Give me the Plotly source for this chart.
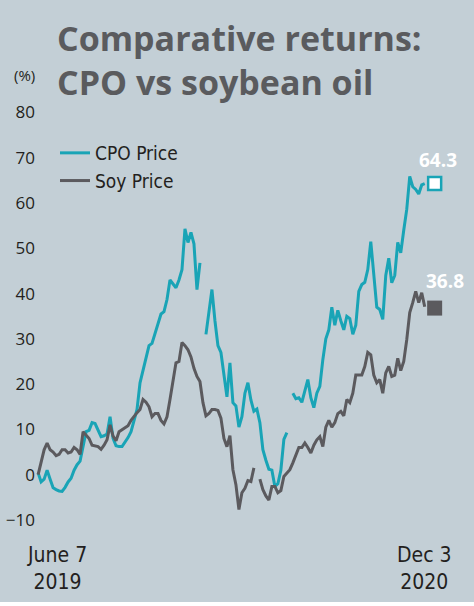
import pandas as pd
import plotly.graph_objects as go

# ---------------- data ----------------
START_DATE = "2019-06-07"
END_DATE = "2020-12-03"

cpo_price = [
    0.4, -1.6, -1.0, 1.0, -1.0, -2.9, -3.3, -3.6, -3.7, -2.8,
    -1.6, -0.8, 1.0, 2.2, 3.0, 6.2, 9.5, 9.8, 11.5, 11.3,
    10.0, 8.4, 8.6, 9.0, 12.8, 8.0, 6.4, 6.2, 6.2, 7.2,
    8.2, 9.5, 12.0, 14.4, 20.3, 23.2, 25.5, 28.5, 29.0, 31.0,
    33.5, 35.5, 36.0, 38.7, 43.0, 42.0, 41.3, 43.0, 45.3, 54.3,
    51.3, 53.5, 51.0, 40.9, 46.8, None, 31.0, 36.0, 40.9, 34.0,
    28.5, 27.0, 22.5, 17.2, 24.7, 15.9, 15.2, 10.5, 12.8, 18.0,
    20.3, 16.5, 14.0, 14.5, 11.5, 5.5, 3.2, 1.2, 1.0, -2.6,
    -2.0, 1.0, 7.8, 9.3, None, 18.0, 16.8, 17.0, 16.0, 18.5,
    21.0, 17.0, 14.8, 18.0, 19.5, 25.4, 30.0, 32.0, 37.0, 33.0,
    36.3, 34.0, 32.0, 35.0, 34.5, 31.0, 33.0, 40.5, 42.0, 42.5,
    45.3, 51.5, 44.0, 37.0, 36.5, 34.3, 44.0, 47.8, 42.4, 44.0,
    51.3, 49.0, 54.0, 58.6, 65.9, 63.6, 63.0, 62.0, 64.0, 64.3,
]

soy_price = [
    0.0, 3.0, 5.5, 7.0, 5.5, 5.0, 4.2, 4.5, 5.5, 5.5,
    4.8, 5.0, 6.0, 5.5, 4.5, 9.5, 8.8, 8.0, 6.5, 6.3,
    6.2, 5.6, 6.5, 7.7, 11.0, 8.5, 7.5, 9.5, 10.0, 10.3,
    10.8, 12.0, 13.0, 13.7, 14.4, 16.6, 16.0, 15.0, 12.8, 13.5,
    13.5, 12.0, 11.2, 12.8, 16.6, 21.0, 24.7, 25.0, 29.2, 28.5,
    27.6, 26.0, 23.5, 21.7, 20.6, 15.9, 13.0, 13.5, 14.4, 14.4,
    14.2, 12.5, 8.0, 6.2, 8.6, 1.1, -2.2, -7.7, -4.0, -3.0,
    -1.3, -1.5, 1.5, None, -1.0, -3.3, -4.7, -5.6, -2.6, -2.6,
    -4.0, -3.5, -0.4, 0.4, 1.1, 2.6, 4.5, 6.0, 6.0, 7.0,
    6.0, 4.8, 6.5, 7.7, 8.4, 6.2, 10.5, 12.0, 10.5, 11.5,
    13.5, 14.0, 13.0, 16.6, 15.9, 18.0, 22.0, 22.0, 22.0, 23.9,
    27.0, 26.5, 22.0, 20.3, 21.0, 18.0, 22.5, 23.9, 21.7, 22.0,
    25.7, 23.0, 25.0, 29.8, 35.8, 38.0, 40.5, 38.0, 40.2, 37.1,
]

cpo_last = 64.3
soy_last = 36.8

y_tick_values = [-10, 0, 10, 20, 30, 40, 50, 60, 70, 80]
series_names = ["CPO Price", "Soy Price"]
start_label = ["June 7", "2019"]
end_label = ["Dec 3", "2020"]
title_lines = ["Comparative returns:", "CPO vs soybean oil"]
unit_label = "(%)"

# ---------------- style ----------------
W, H = 474, 606
ML, MR, MT, MB = 36, 28, 108, 77
BG = "#c3cfd6"
TEAL = "#19a4b6"
GREY = "#5b5a5e"
TEXT = "#231f20"
TITLE_C = "#5a5b5e"
LABEL_FONT = "Liberation Sans Narrow, DejaVu Sans Condensed, Roboto, sans-serif"
TICK_FONT = "Open Sans, Noto Sans, sans-serif"
MARKER_OFFSET_DAYS = 14

dates = pd.date_range(START_DATE, END_DATE, periods=len(cpo_price))
end_marker_date = pd.Timestamp(END_DATE) + pd.Timedelta(days=MARKER_OFFSET_DAYS)

PW = W - ML - MR
PH = H - MT - MB


def px_x(x):
    return (x - ML) / PW


def px_y(y):
    return (H - MB - y) / PH


fig = go.Figure()

fig.add_trace(go.Scatter(
    x=dates, y=cpo_price, mode="lines", name=series_names[0],
    line=dict(color=TEAL, width=3), legendgroup="a",
))
fig.add_trace(go.Scatter(
    x=dates, y=soy_price, mode="lines", name=series_names[1],
    line=dict(color=GREY, width=3), legendgroup="b",
))

# end markers
fig.add_trace(go.Scatter(
    x=[end_marker_date], y=[cpo_last], mode="markers", showlegend=False,
    marker=dict(symbol="square", size=13, color="white",
                line=dict(color=TEAL, width=2.5)),
))
fig.add_trace(go.Scatter(
    x=[end_marker_date], y=[soy_last], mode="markers", showlegend=False,
    marker=dict(symbol="square", size=15, color=GREY,
                line=dict(color=GREY, width=0)),
))

annotations = []
# end value labels
annotations.append(dict(x=end_marker_date, y=cpo_last, xref="x", yref="y",
                        text=f"{cpo_last:.1f}", showarrow=False,
                        xshift=3, yshift=24,
                        font=dict(family=TICK_FONT, size=19, color="white", weight="bold")))
annotations.append(dict(x=end_marker_date, y=soy_last, xref="x", yref="y",
                        text=f"{soy_last:.1f}", showarrow=False,
                        xshift=10, yshift=27,
                        font=dict(family=TICK_FONT, size=19, color="white", weight="bold")))

# title
annotations.append(dict(x=px_x(55), y=px_y(60), xref="paper", yref="paper",
                        xanchor="left", yanchor="middle", align="left",
                        showarrow=False, text="<br>".join(title_lines),
                        font=dict(family="Open Sans, Noto Sans, sans-serif",
                                  size=34, color=TITLE_C, weight="bold")))
# unit
annotations.append(dict(x=px_x(24), y=px_y(75), xref="paper", yref="paper",
                        xanchor="center", yanchor="middle", showarrow=False,
                        text=unit_label,
                        font=dict(family=TICK_FONT, size=15, color=TEXT)))
# x labels
for lbl, xc in ((start_label, 57), (end_label, 424)):
    annotations.append(dict(x=px_x(xc), y=px_y(568), xref="paper", yref="paper",
                            xanchor="center", yanchor="middle", align="center",
                            showarrow=False, text="<br>".join(lbl),
                            font=dict(family=LABEL_FONT, size=21, color=TEXT)))

fig.update_layout(
    width=W, height=H,
    margin=dict(l=ML, r=MR, t=MT, b=MB, pad=0, autoexpand=False),
    paper_bgcolor=BG, plot_bgcolor=BG,
    showlegend=True,
    legend=dict(x=px_x(55), y=px_y(134), xanchor="left", yanchor="top",
                bgcolor="rgba(0,0,0,0)", borderwidth=0,
                font=dict(family=LABEL_FONT, size=19, color=TEXT),
                tracegroupgap=0, traceorder="grouped"),
    annotations=annotations,
    shapes=[dict(type="rect", xref="paper", yref="paper",
                 x0=px_x(-5), x1=px_x(W + 5), y0=px_y(602), y1=px_y(H + 5),
                 fillcolor="white", line=dict(width=0), layer="above")],
    xaxis=dict(range=[pd.Timestamp("2019-06-04"), pd.Timestamp("2021-01-02")],
               visible=False, showgrid=False, zeroline=False, automargin=False),
    yaxis=dict(range=[-12, 81], tickvals=y_tick_values, showgrid=False,
               zeroline=False, showline=False, ticks="", automargin=False,
               tickfont=dict(family=TICK_FONT, size=17, color=TEXT)),
)

fig.write_html("out.html", config={"displayModeBar": False},
               post_script="document.body.style.margin='0px';document.body.style.padding='0px';")
